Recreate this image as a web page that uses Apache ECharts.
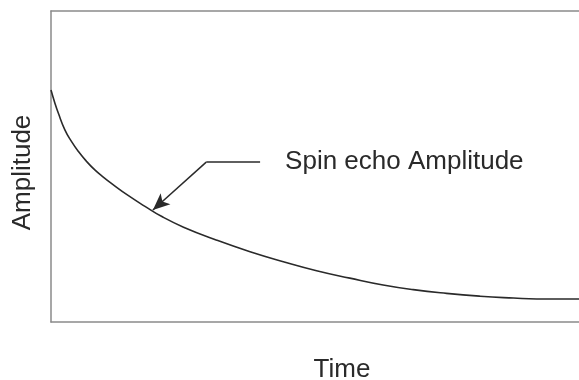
<!DOCTYPE html>
<html>
<head>
<meta charset="utf-8">
<script src="https://cdn.jsdelivr.net/npm/echarts@6/dist/echarts.min.js"></script>
<style>
html,body{margin:0;padding:0;background:#fff;}
#chart{width:579px;height:380px;}
</style>
</head>
<body>
<div id="chart"></div>
<script>
// ---- data ----
const timeValues = [0, 0.7, 1.4, 2.65, 3.9, 5.2, 6.7, 8.3, 9.9, 11.5, 14.6, 17.8, 21.0, 25.1, 31.4, 37.7, 44.0, 50.3, 56.6, 62.9, 68.6, 74.9, 81.25, 87.6, 92.0, 100];
const amplitudeValues = [74.6, 70.6, 67.1, 61.7, 58.0, 54.8, 51.7, 48.9, 46.6, 44.5, 40.7, 37.2, 33.9, 30.5, 26.3, 22.6, 19.4, 16.5, 14.1, 11.9, 10.4, 9.2, 8.3, 7.7, 7.4, 7.4];
const xAxisName = 'Time';
const yAxisName = 'Amplitude';
const calloutText = 'Spin echo Amplitude';
const calloutElbow = [29.4, 51.4];
const calloutEnd = [39.6, 51.4];
const calloutTip = [19.3, 36.0];

const font = "'Liberation Sans', Arial, Helvetica, sans-serif";
const chart = echarts.init(document.getElementById('chart'), null, {renderer: 'canvas'});
const seriesData = timeValues.map((t, i) => [t, amplitudeValues[i]]);
const frameLine = {show: true, lineStyle: {color: '#8a8a8a', width: 1.5}};
const hidden = {axisTick: {show: false}, axisLabel: {show: false}, splitLine: {show: false}};

chart.setOption({
  animation: false,
  backgroundColor: '#ffffff',
  grid: {show: false, left: 51, top: 11, right: 0, bottom: 58, containLabel: false, outerBoundsMode: 'none'},
  xAxis: [{
    type: 'value', min: 0, max: 100, position: 'bottom',
    name: xAxisName, nameLocation: 'middle', nameGap: 35,
    nameTextStyle: {fontFamily: font, fontSize: 26, color: '#2a2a2a', padding: [0, 0, 0, 54]},
    axisLine: frameLine, ...hidden
  }, {
    type: 'value', min: 0, max: 100, position: 'top',
    axisLine: frameLine, ...hidden
  }],
  yAxis: {
    type: 'value', min: 0, max: 100,
    name: yAxisName, nameLocation: 'middle', nameGap: 15,
    nameTextStyle: {fontFamily: font, fontSize: 26, color: '#2a2a2a', padding: [0, 12, 0, 0]},
    axisLine: frameLine, ...hidden
  },
  series: [{
    type: 'line',
    data: seriesData,
    smooth: 0.5,
    showSymbol: false,
    symbol: 'none',
    lineStyle: {color: '#2a2a2a', width: 1.6},
    markLine: {
      silent: true,
      animation: false,
      symbol: ['none', 'none'],
      lineStyle: {color: '#2a2a2a', width: 1.5, type: 'solid'},
      data: [
        [
          {coord: calloutElbow, symbol: 'none'},
          {coord: calloutEnd, symbol: 'none',
           label: {show: true, position: 'end', distance: 25, formatter: calloutText,
                   fontFamily: font, fontSize: 26, color: '#2a2a2a'}}
        ],
        [
          {coord: calloutElbow, symbol: 'none', label: {show: false}},
          {coord: calloutTip, symbol: 'arrow', symbolSize: [11, 17], label: {show: false}}
        ]
      ]
    }
  }]
});
</script>
</body>
</html>
